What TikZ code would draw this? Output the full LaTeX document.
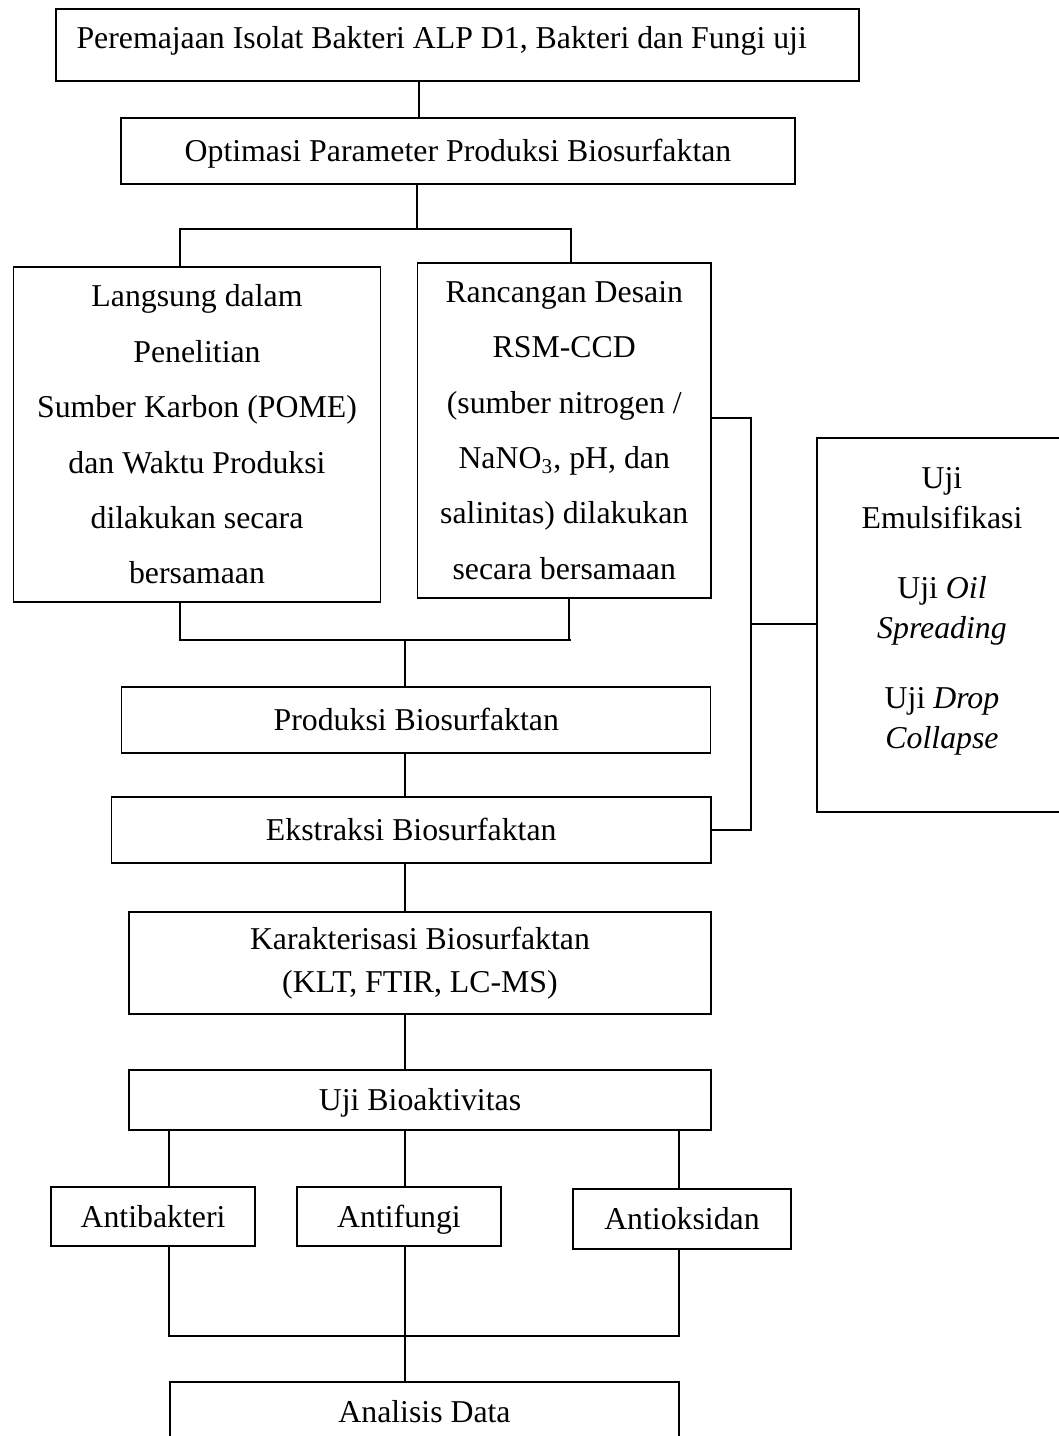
\documentclass[tikz,border=0pt]{standalone}
\usepackage{fontspec}
\setmainfont{Liberation Serif}
\newcommand\pxu{0.3774pt}
\begin{document}
\begin{tikzpicture}[x=0.3774pt,y=-0.3774pt,
  box/.style={draw, line width=0.5pt, inner sep=0pt, align=center, font=\fontsize{12}{14}\selectfont},
  one/.style={text height=9.3pt, text depth=1.2pt},
  txt/.style={inner sep=0pt, align=center, font=\fontsize{12}{15.1}\selectfont},
  sz/.style 2 args={minimum width=#1*\pxu, minimum height=#2*\pxu},
  conn/.style={line width=0.6pt}]
\useasboundingbox (0,0) rectangle (1059,1436);
% boxes
\node[box,sz={803}{72}] (b1) at (457.5,45) {};
\node[txt,anchor=west] (t1) at (76,41) {Peremajaan Isolat Bakteri ALP D1, Bakteri dan Fungi uji};
\node[box,one,sz={674}{66}] (b2) at (458,151) {Optimasi Parameter Produksi Biosurfaktan};
\node[box,sz={366.5}{335},font=\fontsize{12}{20.9}\selectfont] (b3) at (197,434.5)
  {Langsung dalam\\Penelitian\\Sumber Karbon (POME)\\dan Waktu Produksi\\dilakukan secara\\bersamaan};
\node[box,sz={293.5}{335},font=\fontsize{12}{20.9}\selectfont] (b4) at (564.25,430.5)
  {Rancangan Desain\\RSM-CCD\\(sumber nitrogen /\\NaNO\textsubscript{3}, pH, dan\\salinitas) dilakukan\\secara bersamaan};
\node[box,sz={250}{374}] (b5) at (942,625) {};
\node[txt] (t5) at (942,611.5)
  {Uji\\Emulsifikasi\\[11.3pt]Uji \textit{Oil}\\\textit{Spreading}\\[11.3pt]Uji \textit{Drop}\\\textit{Collapse}};
\node[box,one,sz={589}{66}] (b6) at (416.3,720) {Produksi Biosurfaktan};
\node[box,one,sz={599.5}{66}] (b7) at (411.25,830) {Ekstraksi Biosurfaktan};
\node[box,sz={582}{102},font=\fontsize{12}{16.2}\selectfont] (b8) at (420,963) {Karakterisasi Biosurfaktan\\(KLT, FTIR, LC-MS)};
\node[box,one,sz={582}{60}] (b9) at (420,1100) {Uji Bioaktivitas};
\node[box,one,sz={204}{59}] (b10) at (153,1216.5) {Antibakteri};
\node[box,one,sz={204}{59}] (b11) at (399,1216.5) {Antifungi};
\node[box,one,sz={218}{60}] (b12) at (682,1219) {Antioksidan};
\node[box,one,sz={509}{60}] (b13) at (424.5,1412) {Analisis Data};
% helper coordinates
\coordinate (xA) at (419,0);
\coordinate (xB) at (417,0);
\coordinate (xL) at (180,0);
\coordinate (xR) at (571,0);
\coordinate (xR2) at (569,0);
\coordinate (xM) at (405,0);
\coordinate (xP) at (169,0);
\coordinate (xQ) at (679,0);
\coordinate (xS) at (751,0);
\coordinate (yU) at (0,418);
\coordinate (yD) at (0,830);
\coordinate (j1) at (417,229);
\coordinate (j2) at (405,640);
\coordinate (j3) at (405,1336);
\coordinate (j4) at (751,624);
% connectors
\draw[conn] (b1.south -| xA) -- (b2.north -| xA);
\draw[conn] (b2.south -| xB) -- (j1);
\draw[conn] (b3.north -| xL) -- (xL |- j1) -- (xR |- j1) -- (b4.north -| xR);
\draw[conn] (b3.south -| xL) -- (xL |- j2) -- (xR |- j2);
\draw[conn] (b4.south -| xR2) -- (xR2 |- j2);
\draw[conn] (j2) -- (b6.north -| xM);
\draw[conn] (b6.south -| xM) -- (b7.north -| xM);
\draw[conn] (b7.south -| xM) -- (b8.north -| xM);
\draw[conn] (b8.south -| xM) -- (b9.north -| xM);
\draw[conn] (b9.south -| xP) -- (b10.north -| xP);
\draw[conn] (b9.south -| xM) -- (b11.north -| xM);
\draw[conn] (b9.south -| xQ) -- (b12.north -| xQ);
\draw[conn] (b10.south -| xP) -- (xP |- j3) -- (xQ |- j3) -- (b12.south -| xQ);
\draw[conn] (b11.south -| xM) -- (b13.north -| xM);
\draw[conn] (b4.east |- yU) -- (xS |- yU) -- (xS |- yD) -- (b7.east |- yD);
\draw[conn] (j4) -- (b5.west |- j4);
\end{tikzpicture}
\end{document}
